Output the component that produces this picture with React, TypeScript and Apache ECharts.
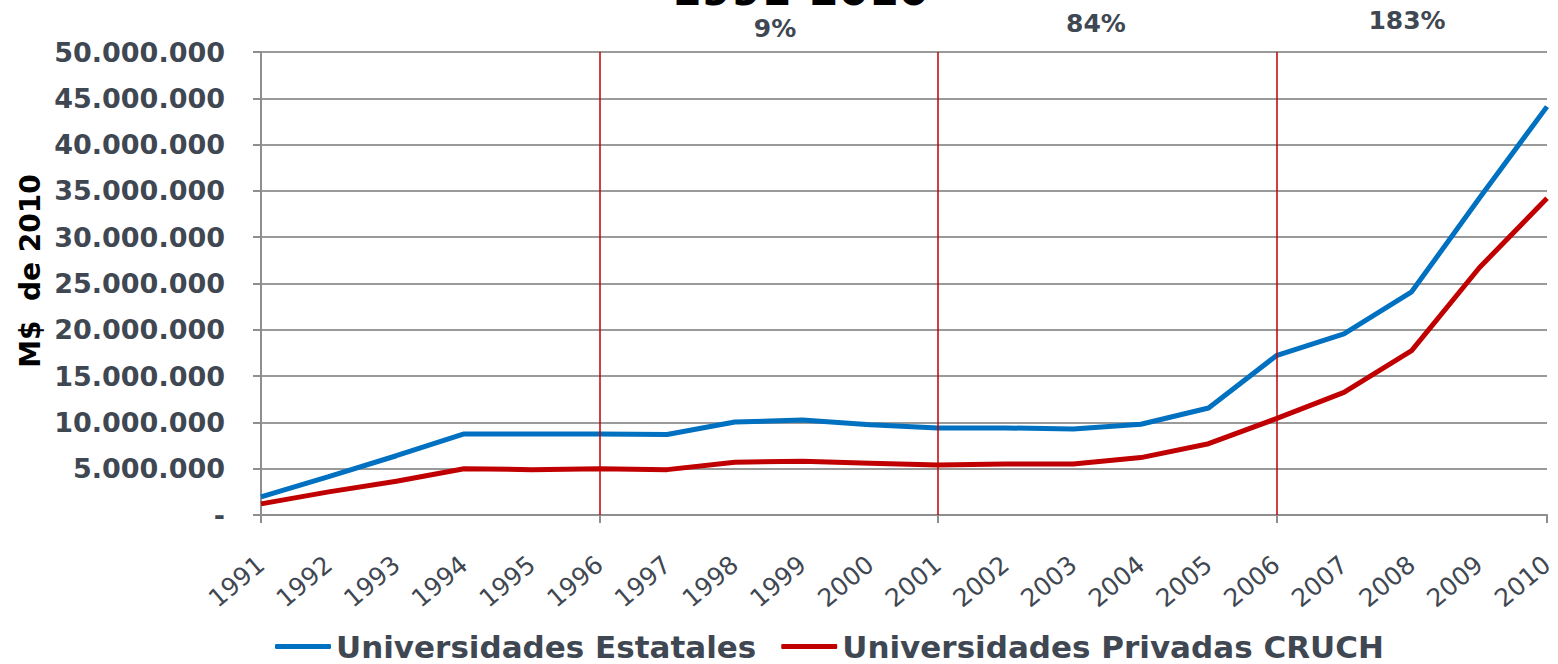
import React, { useEffect, useRef } from "react";
import * as echarts from "echarts";

const years = ["1991","1992","1993","1994","1995","1996","1997","1998","1999","2000","2001","2002","2003","2004","2005","2006","2007","2008","2009","2010"];
const estatales = [1950000,4150000,6400000,8750000,8750000,8750000,8700000,10050000,10250000,9750000,9400000,9400000,9300000,9800000,11550000,17200000,19550000,24100000,34200000,44100000];
const privadas = [1200000,2500000,3650000,5000000,4900000,5000000,4900000,5700000,5800000,5600000,5400000,5500000,5500000,6200000,7700000,10400000,13250000,17750000,26700000,34200000];
const periodMarks = ["1996","2001","2006"];
const periodLabels = ["9%","84%","183%"];
const seriesNames = ["Universidades Estatales","Universidades Privadas CRUCH"];
const titleText = "1991-2010";
const yAxisTitle = "M$  de 2010";

const TXT = "#3f4852";

export default function App() {
  const ref = useRef<HTMLDivElement>(null);
  useEffect(() => {
    if (!ref.current) return;
    const chart = echarts.init(ref.current, null, { renderer: "svg" });
    const fmt = (v: number) => (v === 0 ? "-" : String(Math.round(v)).replace(/\B(?=(\d{3})+(?!\d))/g, "."));
    const ann = (t: string, x: number, y: number) => ({
      type: "text", x, y,
      style: { text: t, font: "bold 25px 'DejaVu Sans'", fill: TXT, align: "center", verticalAlign: "middle" },
    });
    chart.setOption({
      animation: false,
      grid: { left: 261, right: 11, top: 52, bottom: 149, containLabel: false },
      graphic: [
        { type: "text", x: 800, y: -10, style: { text: titleText, font: "bold 43px 'DejaVu Sans'", fill: "#000", align: "center", verticalAlign: "middle" } },
        ann(periodLabels[0], 775, 28),
        ann(periodLabels[1], 1096, 23),
        ann(periodLabels[2], 1407, 20),
        { type: "text", x: 30, y: 271, rotation: Math.PI / 2, style: { text: yAxisTitle, font: "bold 28px 'DejaVu Sans'", fill: "#000", align: "center", verticalAlign: "middle" } },
      ],
      legend: {
        top: 631,
        left: 275,
        padding: 0,
        icon: "roundRect",
        itemWidth: 56,
        itemHeight: 5,
        itemGap: 25,
        textStyle: { fontFamily: "DejaVu Sans", fontWeight: "bold", fontSize: 31, color: TXT },
        data: seriesNames,
      },
      xAxis: {
        type: "category",
        data: years,
        boundaryGap: false,
        axisLine: { lineStyle: { color: "#8e8e8e", width: 2 } },
        axisTick: { show: true, interval: 4, length: 8, lineStyle: { color: "#8e8e8e", width: 2 } },
        axisLabel: { rotate: 40, interval: 0, margin: 46, fontFamily: "DejaVu Sans", fontSize: 25, color: TXT },
        splitLine: { show: false },
      },
      yAxis: {
        type: "value",
        min: 0,
        max: 50000000,
        interval: 5000000,
        axisLine: { show: true, lineStyle: { color: "#8e8e8e", width: 2 } },
        axisTick: { show: true, length: 8, lineStyle: { color: "#8e8e8e", width: 2 } },
        axisLabel: { formatter: fmt, margin: 8, padding: [0, 28, 0, 0], fontFamily: "DejaVu Sans", fontWeight: "bold", fontSize: 27, color: TXT },
        splitLine: { show: true, lineStyle: { color: "#9a9a9a", width: 2 } },
      },
      series: [
        {
          name: seriesNames[0],
          type: "line",
          data: estatales,
          symbol: "none",
          lineStyle: { color: "#0070c0", width: 5 },
          itemStyle: { color: "#0070c0" },
          z: 3,
          markLine: {
            silent: true,
            symbol: "none",
            label: { show: false },
            lineStyle: { color: "#c00000", width: 1.5, type: "solid" },
            data: periodMarks.map((y) => ({ xAxis: y })),
          },
        },
        {
          name: seriesNames[1],
          type: "line",
          data: privadas,
          symbol: "none",
          lineStyle: { color: "#c00000", width: 5 },
          itemStyle: { color: "#c00000" },
          z: 3,
        },
      ],
    });
    return () => chart.dispose();
  }, []);
  return <div ref={ref} style={{ position: "absolute", left: 0, top: 0, width: 1558, height: 664 }} />;
}
